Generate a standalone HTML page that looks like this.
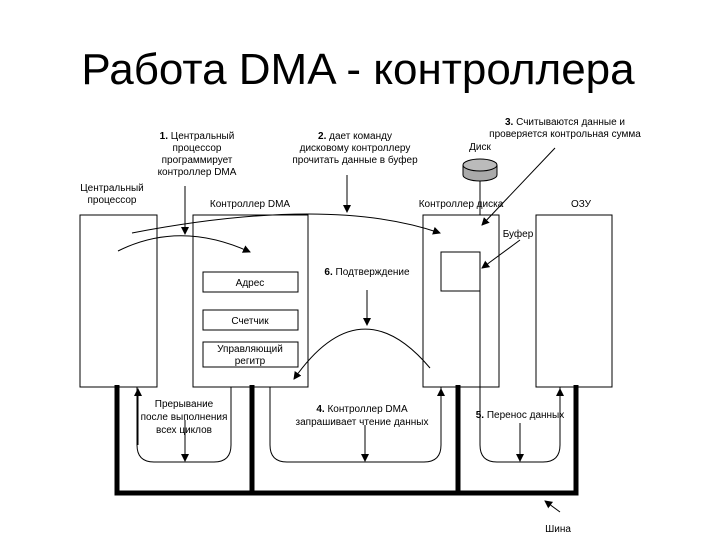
<!DOCTYPE html>
<html><head><meta charset="utf-8"><style>
body{margin:0;background:#fff}
svg{display:block;font-family:"Liberation Sans",sans-serif}
</style></head><body>
<svg width="720" height="540" viewBox="0 0 720 540">
<defs><marker id="a" markerWidth="8" markerHeight="8" refX="7" refY="4" orient="auto" markerUnits="userSpaceOnUse"><path d="M0,0L8,4L0,8z" fill="#000"/></marker></defs>
<text x="358" y="84" font-size="44" text-anchor="middle">Работа DMA - контроллера</text>
<g fill="none" stroke="#000" stroke-width="1">
<rect x="80" y="215" width="77" height="172"/>
<rect x="193" y="215" width="115" height="172"/>
<rect x="423" y="215" width="76" height="172"/>
<rect x="536" y="215" width="76" height="172"/>
<rect x="203" y="272" width="95" height="20"/>
<rect x="203" y="310" width="95" height="20"/>
<rect x="203" y="342" width="95" height="25"/>
<rect x="441" y="252" width="39" height="39"/>
<line x1="480" y1="175" x2="480" y2="215"/>
<path d="M137,387V445Q137,462 154,462H214Q231,462 231,445V387"/>
<path d="M270,387V445Q270,462 287,462H424Q441,462 441,445V387"/>
<path d="M480,291V445Q480,462 497,462H543Q560,462 560,445V387"/>
<line x1="138" y1="445" x2="138" y2="389" marker-end="url(#a)"/>
<line x1="441" y1="445" x2="441" y2="389" marker-end="url(#a)"/>
<line x1="560" y1="445" x2="560" y2="389" marker-end="url(#a)"/>
<line x1="185" y1="420" x2="185" y2="461" marker-end="url(#a)"/>
<line x1="365" y1="425" x2="365" y2="461" marker-end="url(#a)"/>
<line x1="520" y1="423" x2="520" y2="461" marker-end="url(#a)"/>
<line x1="185" y1="186" x2="185" y2="234" marker-end="url(#a)"/>
<line x1="347" y1="175" x2="347" y2="212" marker-end="url(#a)"/>
<line x1="367" y1="290" x2="367" y2="325" marker-end="url(#a)"/>
<path d="M132,233Q330,195 440,233" marker-end="url(#a)"/>
<path d="M118,251Q180,220 250,252" marker-end="url(#a)"/>
<path d="M430,368Q360,285 294,379" marker-end="url(#a)"/>
<line x1="555" y1="148" x2="482" y2="225" marker-end="url(#a)"/>
<line x1="520" y1="240" x2="482" y2="268" marker-end="url(#a)"/>
<line x1="560" y1="512" x2="545" y2="501" marker-end="url(#a)"/>
</g>
<g stroke="#000" stroke-width="5" fill="none">
<path d="M117,385V493H576V385"/>
<line x1="252" y1="385" x2="252" y2="493"/>
<line x1="458" y1="385" x2="458" y2="493"/>
</g>
<path d="M463,165v10a17,6 0 0 0 34,0v-10" fill="#aaa" stroke="#000"/>
<ellipse cx="480" cy="165" rx="17" ry="6" fill="#bbb" stroke="#000"/>
<g font-size="10" text-anchor="middle">
<text x="250" y="286">Адрес</text>
<text x="250" y="324">Счетчик</text>
<text x="250" y="352">Управляющий</text><text x="250" y="364">регитр</text>
<text x="112" y="191">Центральный</text><text x="112" y="203">процессор</text>
<text x="250" y="207">Контроллер DMA</text>
<text x="461" y="207">Контроллер диска</text>
<text x="581" y="207">ОЗУ</text>
<text x="518" y="237">Буфер</text>
<text x="480" y="150">Диск</text>
<text x="197" y="139"><tspan font-weight="bold">1.</tspan> Центральный</text>
<text x="197" y="151">процессор</text><text x="197" y="163">программирует</text><text x="197" y="175">контроллер DMA</text>
<text x="355" y="139"><tspan font-weight="bold">2.</tspan> дает команду</text>
<text x="355" y="151">дисковому контроллеру</text><text x="355" y="163">прочитать данные в буфер</text>
<text x="565" y="125"><tspan font-weight="bold">3.</tspan> Считываются данные и</text>
<text x="565" y="137">проверяется контрольная сумма</text>
<text x="367" y="275"><tspan font-weight="bold">6.</tspan> Подтверждение</text>
<text x="184" y="407">Прерывание</text><text x="184" y="420">после выполнения</text><text x="184" y="433">всех циклов</text>
<text x="362" y="412"><tspan font-weight="bold">4.</tspan>  Контроллер DMA</text>
<text x="362" y="425">запрашивает чтение данных</text>
<text x="520" y="418"><tspan font-weight="bold">5.</tspan> Перенос данных</text>
<text x="558" y="532">Шина</text>
</g>
</svg>
</body></html>
